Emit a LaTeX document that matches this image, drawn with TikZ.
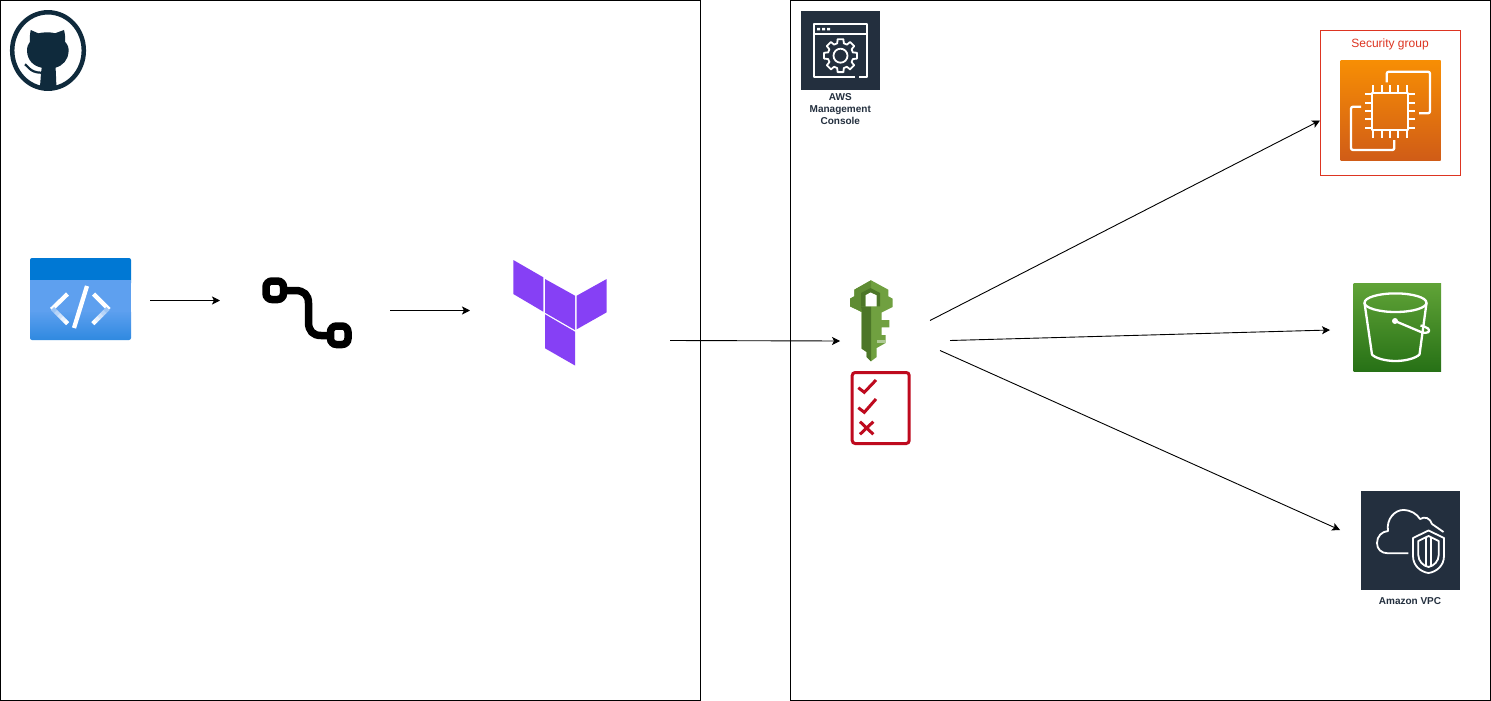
\documentclass[tikz,border=0pt]{standalone}
\usepackage{fontspec}
\setmainfont{Liberation Sans}
\usetikzlibrary{arrows.meta}
\definecolor{awsnavy}{HTML}{232F3E}
\definecolor{ghink}{HTML}{0F2A3C}
\definecolor{azhead}{HTML}{0078D4}
\definecolor{azbody}{HTML}{5EA0EF}
\definecolor{azlow}{HTML}{2F89E0}
\definecolor{tfpurple}{HTML}{8640F5}
\definecolor{sgred}{HTML}{DD3522}
\definecolor{listred}{HTML}{BE0A1E}
\definecolor{keylight}{HTML}{70A040}
\definecolor{keymid}{HTML}{5F8C33}
\definecolor{keydark}{HTML}{4C7628}
\definecolor{ectop}{HTML}{F78E04}
\definecolor{ecbot}{HTML}{D05C17}
\definecolor{sthreetop}{HTML}{60A337}
\definecolor{sthreebot}{HTML}{277116}
\tikzset{
  x=1pt,y=-1pt,
  frame/.style={draw=black,line width=1pt},
  flow/.style={draw=black,line width=0.9pt,-{Stealth[length=8pt,width=8pt,inset=2pt]}},
  iconline/.style={draw=white,line width=2.3pt,line join=round},
  iconthin/.style={draw=white,line width=1.8pt,line join=round},
  tfblock/.style={fill=tfpurple,draw=none},
  awslabel/.style={font=\bfseries\fontsize{10}{12}\selectfont,text=awsnavy,align=center,inner sep=0pt},
  pathline/.style={draw=black,line width=7.5pt},
  listline/.style={draw=listred,line width=3pt},
}
\begin{document}
\begin{tikzpicture}
\useasboundingbox (0,0) rectangle (1491,701);
\fill[white] (0,0) rectangle (1491,701);

% frames
\draw[frame] (0.5,0.5) rectangle (700.5,700.5);
\draw[frame] (790.5,0.5) rectangle (1490.5,700.5);

% GitHub
\draw[ghink,line width=4.5pt] (48,50.5) ellipse [x radius=35.8,y radius=38.2];
\fill[ghink] (30.7,30) -- (38.3,33.3) .. controls (43,32) and (52,32) .. (55,33.3) -- (64,30)
  .. controls (65,34) and (65.5,38) .. (65,41.7) .. controls (68,45) and (69,48) .. (68.5,52)
  .. controls (68,60) and (63,65.5) .. (55.5,67.7) .. controls (56,72) and (56,80) .. (56.5,87)
  -- (40,87) .. controls (40.5,80) and (41,72) .. (41.7,67.7)
  .. controls (33,66) and (27.5,60) .. (27,51) .. controls (27,47) and (28,44) .. (30,41.7)
  .. controls (29.5,38) and (30,34) .. cycle;
\draw[ghink,line width=2.2pt] (25,64.3) .. controls (28,66) and (30,72.5) .. (41,72.7);

% Azure code icon
\fill[azhead,rounded corners=2pt] (30,258) rectangle (131,285);
\shade[top color=azbody,bottom color=azlow,rounded corners=2pt] (30,310) rectangle (131,340);
\fill[azbody] (30,280) rectangle (131,312);
\draw[white,line width=4.3pt] (67.5,294) -- (51.5,309.5);
\draw[white,line width=4.3pt] (87,286) -- (74,328);
\draw[white,line width=4.3pt] (93.5,294) -- (109,309.5);
\foreach \i/\c in {0/40,1/55,2/70,3/85,4/100}{
  \draw[white!\c!azbody,line width=4.3pt] ({52.5+\i*3},{308.5+\i*3}) -- ({55.7+\i*3},{311.7+\i*3});
  \draw[white!\c!azbody,line width=4.3pt] ({108-\i*3},{308.5+\i*3}) -- ({104.8-\i*3},{311.7+\i*3});
}

% branch / path icon
\draw[pathline,rounded corners=6pt] (266,281) rectangle (283.5,299.5);
\draw[pathline,rounded corners=6pt] (330.5,326) rectangle (348,344.5);
\draw[pathline] (283.5,290.5) -- (295,290.5) .. controls (304,290.5) and (308.5,295) .. (308.5,303) -- (308.5,322)
  .. controls (308.5,331) and (313,335.5) .. (321,335.5) -- (330.5,335.5);

% Terraform
\fill[tfblock] (513.3,260) -- (543.3,277.3) -- (543.3,311.7) -- (513.3,294) -- cycle;
\fill[tfblock] (545,279) -- (575,295.7) -- (575,330) -- (545,312.7) -- cycle;
\fill[tfblock] (576.7,295.7) -- (606.7,279) -- (606.7,312.3) -- (576.7,329.3) -- cycle;
\fill[tfblock] (545,314.3) -- (575,331.7) -- (575,365.5) -- (545,348.3) -- cycle;

% AWS Management Console
\fill[awsnavy] (801,11) rectangle (880,90);
\draw[iconthin] (855,76.7) -- (813.8,76.7) -- (813.8,23.8) -- (867.2,23.8) -- (867.2,76.7) -- (858.5,76.7);
\draw[iconthin] (813.8,34) -- (867.2,34);
\fill[white] (817,28) rectangle (820,30.3) (822,28) rectangle (825,30.3) (827,28) rectangle (830,30.3);
\begin{scope}[shift={(840.5,55.7)}]
  \draw[iconthin] (-15:12.8) \foreach \a in {0,45,...,315}{ -- (\a-15:12.8) -- (\a-10:16.7) -- (\a+10:16.7) -- (\a+15:12.8) } -- cycle;
  \draw[iconthin] (0,0) circle[radius=7];
\end{scope}
\node[awslabel] (console) at (840.3,108.8) {AWS\\Management\\Console};

% key
\fill[keylight] (871,280.3) -- (888.3,289.7) -- (888.3,296.3) -- (892.7,298.7) -- (892.7,307) -- (881.7,312.5) -- (881.7,320)
  -- (889.3,320) -- (889.3,327.3) -- (881.7,327.3) -- (881.7,335) -- (885.5,335) -- (885.5,343) -- (876.7,348) -- (876.7,357)
  -- (871,361.3) -- (866.7,357) -- (866.7,352) -- (861.7,348.7) -- (861.7,312) -- (850,306.3) -- (850,298.7)
  -- (854.3,296.3) -- (854.3,289.7) -- cycle;
\fill[keymid] (871,280.3) -- (871,288) -- (861,293) -- (861,311.7) -- (850,306.3) -- (850,298.7)
  -- (854.3,296.3) -- (854.3,289.7) -- cycle;
\fill[keydark] (861,306.3) -- (871,306.3) -- (871,361.3) -- (866.7,357) -- (866.7,352) -- (861.7,348.7) -- (861.7,312) -- cycle;
\fill[keydark] (870.5,288) -- (880,293) -- (880,306.3) -- (876.5,306.3) -- (876.5,295.3) -- (870.5,292.5) -- (865.5,295.3) -- (865.5,306.3) -- (861,306.3) -- (861,293) -- cycle;
\fill[white] (865.5,295.3) -- (870.5,292.5) -- (876.5,295.3) -- (876.5,306.3) -- (865.5,306.3) -- cycle;
\fill[keylight!55!white] (877,339.5) -- (885.5,339.5) -- (885.5,343) -- (877,343) -- cycle;

% checklist
\draw[listline,rounded corners=3pt] (852.2,372.5) rectangle (909.2,443.5);
\draw[listline] (858.3,387.7) -- (864.3,392.3) -- (876,380);
\draw[listline] (858.3,407.7) -- (864.3,412.3) -- (876,399);
\draw[listline] (860,421.7) -- (873.3,434.3) (873.3,421.7) -- (860,434.3);

% security group + EC2
\draw[draw=sgred,line width=1pt] (1320.5,30.5) rectangle (1460.5,175.5);
\node[text=sgred,font=\fontsize{12}{14}\selectfont,inner sep=0pt] (sglabel) at (1390,44) {Security group};
\shade[top color=ectop,bottom color=ecbot] (1340.5,60.5) rectangle (1440.5,160.5);
\draw[iconline] (1371.7,92.7) rectangle (1407.7,130);
\foreach \p in {1373.3,1381.7,1390,1398.3,1406.7}{
  \draw[iconline] (\p,85) -- (\p,92.7);
  \draw[iconline] (\p,130) -- (\p,137.5);
}
\foreach \p in {94.3,102.7,111,119.3,127.7}{
  \draw[iconline] (1365,\p) -- (1371.7,\p);
  \draw[iconline] (1407.7,\p) -- (1415,\p);
}
\draw[iconline,rounded corners=2pt] (1386.7,82.3) -- (1386.7,71.7) -- (1430,71.7) -- (1430,113.3) -- (1419,113.3);
\draw[iconline,rounded corners=2pt] (1361,106.7) -- (1351,106.7) -- (1351,150) -- (1394.3,150) -- (1394.3,140);

% S3
\shade[top color=sthreetop,bottom color=sthreebot] (1353.5,283.5) rectangle (1441,371);
\draw[iconline] (1395.5,302.7) ellipse[x radius=31,y radius=9.3];
\draw[iconline] (1364.5,303) -- (1372,354.5) .. controls (1375,358) and (1385,361) .. (1395.5,361) .. controls (1406,361) and (1416,358) .. (1419.5,354.5) -- (1426.5,303);
\fill[white] (1395,321) circle[radius=3];
\draw[iconline] (1395,321) -- (1421,332) .. controls (1428,334.5) and (1431,331) .. (1428,328.5) .. controls (1426,327) and (1423,326) .. (1420.5,325.5);

% VPC
\fill[awsnavy] (1361,491) rectangle (1460,590);
\draw[iconthin] (1408.3,553.3) -- (1388,553.3) .. controls (1381,553.3) and (1377,549) .. (1377,543) .. controls (1377,536) and (1382,531.5) .. (1388,531)
  .. controls (1386,519) and (1395,510) .. (1403,510) .. controls (1411,510) and (1417,514) .. (1420,519)
  .. controls (1425,516) and (1430,518) .. (1432,524) -- (1443.5,532);
\draw[iconthin,fill=awsnavy] (1428.5,530.5) -- (1413,538) -- (1413,556) .. controls (1413,566) and (1421,572) .. (1428.5,573) .. controls (1436,572) and (1444,566) .. (1444,556) -- (1444,538) -- cycle;
\draw[iconthin] (1428.5,536) -- (1418.3,541) -- (1418.3,555) .. controls (1418.3,561) and (1423,566) .. (1428.5,567) .. controls (1434,566) and (1438.7,561) .. (1438.7,555) -- (1438.7,541) -- cycle;
\draw[iconthin] (1426,537) -- (1426,566.5) (1431,537) -- (1431,566.5);
\node[awslabel] (vpclabel) at (1410,600.8) {Amazon VPC};

% connectors
\coordinate (a1) at (150,300.5); \coordinate (a2) at (220,300.5);
\coordinate (b1) at (390,310.5); \coordinate (b2) at (470,310.5);
\coordinate (c1) at (670,340.5); \coordinate (c2) at (840,341);
\coordinate (d1) at (930,320.5); \coordinate (d2) at (1320,120.5);
\coordinate (e1) at (950,340.5); \coordinate (e2) at (1330,330);
\coordinate (f1) at (940,350.5); \coordinate (f2) at (1340,530);
\draw[flow] (a1) -- (a2);
\draw[flow] (b1) -- (b2);
\draw[flow] (c1) -- (c2);
\draw[flow] (d1) -- (d2);
\draw[flow] (e1) -- (e2);
\draw[flow] (f1) -- (f2);
\end{tikzpicture}
\end{document}
